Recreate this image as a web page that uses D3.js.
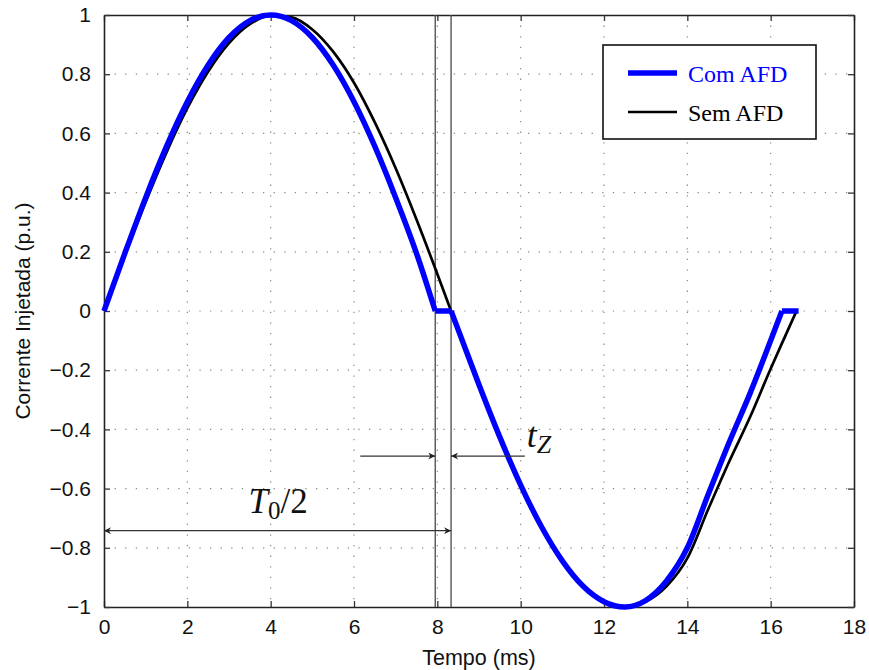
<!DOCTYPE html>
<html>
<head>
<meta charset="utf-8">
<script src="https://cdn.jsdelivr.net/npm/d3@7"></script>
<style>
  body { margin: 0; background: #fff; }
  svg { display: block; }
</style>
</head>
<body>
<svg id="chart" width="869" height="670"></svg>
<script>
// ---- data ----
const xTicks = [0, 2, 4, 6, 8, 10, 12, 14, 16, 18];
const yTicks = [-1, -0.8, -0.6, -0.4, -0.2, 0, 0.2, 0.4, 0.6, 0.8, 1];

const tBlue = [0,0.5,1,1.5,2,2.5,3,3.5,4,4.5,5,5.5,6,6.5,7,7.5,7.95,8.33,8.5,9,9.5,10,10.5,11,11.5,12,12.5,13,13.5,14,14.5,15,15.5,16,16.27,16.67];
const vBlue = [0,0.195,0.383,0.556,0.707,0.831,0.924,0.981,1.0,0.981,0.924,0.831,0.707,0.556,0.383,0.195,0,0,-0.063,-0.249,-0.426,-0.588,-0.729,-0.844,-0.93,-0.982,-1.0,-0.978,-0.912,-0.8,-0.62,-0.445,-0.28,-0.1,0,0];

const tBlack = [0,0.5,1,1.5,2,2.5,3,3.5,4,4.5,5,5.5,6,6.5,7,7.5,8,8.33,8.5,9,9.5,10,10.5,11,11.5,12,12.5,13,13.5,14,14.5,15,15.5,16,16.3,16.62];
const vBlack = [0,0.187,0.368,0.536,0.685,0.809,0.905,0.969,0.998,0.992,0.951,0.876,0.771,0.637,0.482,0.309,0.125,0,-0.063,-0.249,-0.426,-0.588,-0.729,-0.844,-0.93,-0.982,-1.0,-0.982,-0.93,-0.835,-0.67,-0.51,-0.36,-0.195,-0.1,0];

const seriesNames = ["Com AFD", "Sem AFD"];
const markerTimes = [7.95, 8.33];        // vertical reference lines (ms)
const tzArrowLevel = -0.49;               // t_Z arrows (p.u.)
const tzArrowFrom = [6.15, 10.1];
const halfPeriodArrowLevel = -0.742;      // T0/2 arrow (p.u.)

// ---- layout ----
const svg = d3.select("#chart");
const margin = {left: 104, right: 15, top: 15, bottom: 63};
const W = 869, H = 670;
const x = d3.scaleLinear().domain([0, 18]).range([margin.left, W - margin.right]);
const y = d3.scaleLinear().domain([-1, 1]).range([H - margin.bottom, margin.top]);
const sans = "'Liberation Sans', Arial, Helvetica, sans-serif";
const serif = "'Liberation Serif', 'Times New Roman', serif";

// grid
const grid = svg.append("g");
grid.selectAll("line.gx").data(xTicks.filter(d => d > 0 && d < 18)).enter().append("line")
  .attr("x1", d => x(d)).attr("x2", d => x(d)).attr("y1", y(1)).attr("y2", y(-1))
  .attr("stroke", "#8a8a8a").attr("stroke-width", 1.2).attr("stroke-dasharray", "1.3,9.3");
grid.selectAll("line.gy").data(yTicks.filter(d => d > -1 && d < 1)).enter().append("line")
  .attr("y1", d => y(d)).attr("y2", d => y(d)).attr("x1", x(0)).attr("x2", x(18))
  .attr("stroke", "#8a8a8a").attr("stroke-width", 1.2).attr("stroke-dasharray", "1.3,9.3");

// axes (inward ticks all around)
const fmt = d => d < 0 ? "\u2212" + Math.abs(d) : String(d);
const axB = svg.append("g").attr("transform", `translate(0,${y(-1)})`)
  .call(d3.axisBottom(x).tickValues(xTicks).tickSizeInner(-6).tickSizeOuter(0).tickPadding(12).tickFormat(fmt));
const axT = svg.append("g").attr("transform", `translate(0,${y(1)})`)
  .call(d3.axisTop(x).tickValues(xTicks).tickSizeInner(-6).tickSizeOuter(0).tickFormat(""));
const axL = svg.append("g").attr("transform", `translate(${x(0)},0)`)
  .call(d3.axisLeft(y).tickValues(yTicks).tickSizeInner(-6).tickSizeOuter(0).tickPadding(13).tickFormat(fmt));
const axR = svg.append("g").attr("transform", `translate(${x(18)},0)`)
  .call(d3.axisRight(y).tickValues(yTicks).tickSizeInner(-6).tickSizeOuter(0).tickFormat(""));
[axB, axT, axL, axR].forEach(a => {
  a.select(".domain").attr("stroke", "#222").attr("stroke-width", 1.6);
  a.selectAll(".tick line").attr("stroke", "#333").attr("stroke-width", 1.3);
  a.selectAll("text").attr("font-family", sans).attr("font-size", 21).attr("fill", "#111");
});

// vertical marker lines
svg.selectAll("line.mark").data(markerTimes).enter().append("line")
  .attr("x1", d => x(d)).attr("x2", d => x(d)).attr("y1", y(1)).attr("y2", y(-1))
  .attr("stroke", "#555").attr("stroke-width", 1.4);

// curves: smooth pieces, flat zero-current intervals kept as straight segments
const smooth = d3.line().x(d => x(d[0])).y(d => y(d[1])).curve(d3.curveMonotoneX);
function pieces(pts) {
  const out = [];
  let cur = [pts[0]];
  for (let i = 1; i < pts.length; i++) {
    const flat = pts[i][1] === 0 && pts[i - 1][1] === 0;
    if (flat) {
      if (cur.length > 1) out.push(cur);
      out.push([pts[i - 1], pts[i]]);
      cur = [pts[i]];
    } else {
      cur.push(pts[i]);
    }
  }
  if (cur.length > 1) out.push(cur);
  return out;
}
function pathFor(pts) { return pieces(pts).map(p => smooth(p)).join(""); }

const blackData = tBlack.map((t, i) => [t, vBlack[i]]);
const blueData = tBlue.map((t, i) => [t, vBlue[i]]);
svg.append("path").attr("d", pathFor(blackData))
  .attr("fill", "none").attr("stroke", "#000").attr("stroke-width", 2.7).attr("stroke-linejoin", "round");
svg.append("path").attr("d", pathFor(blueData))
  .attr("fill", "none").attr("stroke", "#0000ff").attr("stroke-width", 5.5).attr("stroke-linejoin", "round");

// arrow markers
const defs = svg.append("defs");
defs.append("marker").attr("id", "ah").attr("viewBox", "0 0 10 10").attr("refX", 10).attr("refY", 5)
  .attr("markerWidth", 9).attr("markerHeight", 7).attr("markerUnits", "userSpaceOnUse").attr("orient", "auto-start-reverse")
  .append("path").attr("d", "M0,0 L10,5 L0,10 L3,5 Z").attr("fill", "#222");

// t_Z arrows
svg.append("line").attr("x1", x(tzArrowFrom[0])).attr("x2", x(markerTimes[0]))
  .attr("y1", y(tzArrowLevel)).attr("y2", y(tzArrowLevel))
  .attr("stroke", "#333").attr("stroke-width", 1.3).attr("marker-end", "url(#ah)");
svg.append("line").attr("x1", x(tzArrowFrom[1])).attr("x2", x(markerTimes[1]))
  .attr("y1", y(tzArrowLevel)).attr("y2", y(tzArrowLevel))
  .attr("stroke", "#333").attr("stroke-width", 1.3).attr("marker-end", "url(#ah)");
const tz = svg.append("text").attr("x", x(tzArrowFrom[1]) + 2).attr("y", y(-0.458))
  .attr("font-family", serif).attr("font-size", 36).attr("fill", "#111");
tz.append("tspan").attr("font-style", "italic").text("t");
tz.append("tspan").attr("font-style", "italic").attr("font-size", 26).attr("dy", 6).text("Z");

// T0/2 arrow
svg.append("line").attr("x1", x(0)).attr("x2", x(markerTimes[1]))
  .attr("y1", y(halfPeriodArrowLevel)).attr("y2", y(halfPeriodArrowLevel))
  .attr("stroke", "#333").attr("stroke-width", 1.3)
  .attr("marker-start", "url(#ah)").attr("marker-end", "url(#ah)");
const t0 = svg.append("text").attr("x", x(4.18)).attr("y", y(-0.681)).attr("text-anchor", "middle")
  .attr("font-family", serif).attr("font-size", 35).attr("fill", "#111");
t0.append("tspan").attr("font-style", "italic").text("T");
t0.append("tspan").attr("font-size", 25).attr("dy", 6).text("0");
t0.append("tspan").attr("dy", -6).text("/2");

// axis titles
svg.append("text").attr("x", x(9)).attr("y", 665).attr("text-anchor", "middle")
  .attr("font-family", sans).attr("font-size", 21.5).attr("fill", "#111").text("Tempo (ms)");
svg.append("text").attr("transform", `translate(30,${y(0)}) rotate(-90)`).attr("text-anchor", "middle")
  .attr("font-family", sans).attr("font-size", 21).attr("fill", "#111").text("Corrente Injetada (p.u.)");

// legend
const lg = svg.append("g");
lg.append("rect").attr("x", 603).attr("y", 45).attr("width", 213).attr("height", 94)
  .attr("fill", "#fff").attr("stroke", "#111").attr("stroke-width", 1.6);
const legendItems = [
  {name: seriesNames[0], color: "#0000ff", w: 5.5, ly: 73, ty: 82},
  {name: seriesNames[1], color: "#000", w: 2.7, ly: 112, ty: 121}
];
legendItems.forEach(it => {
  lg.append("line").attr("x1", 628).attr("x2", 677).attr("y1", it.ly).attr("y2", it.ly)
    .attr("stroke", it.color).attr("stroke-width", it.w);
  lg.append("text").attr("x", 688).attr("y", it.ty).attr("font-family", serif).attr("font-size", 24)
    .attr("fill", it.color).text(it.name);
});
</script>
</body>
</html>
